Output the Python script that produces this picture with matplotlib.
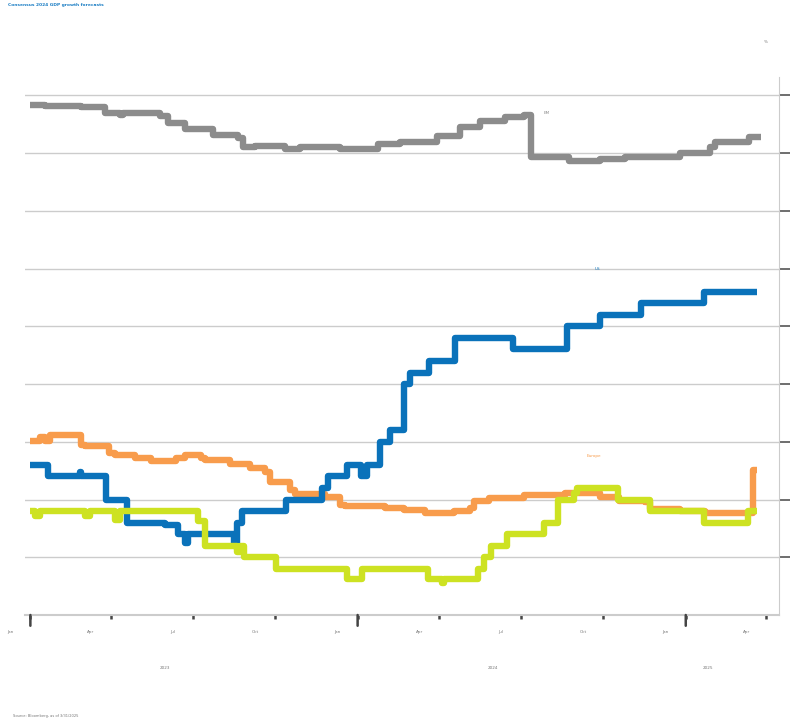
import matplotlib
matplotlib.use("Agg")
import matplotlib.pyplot as plt
import matplotlib.dates as mdates
import matplotlib.transforms as mtransforms
import pandas as pd

title = "Consensus 2024 GDP growth forecasts"
source = "Source: Bloomberg, as of 3/31/2025"

em_dates = ["2023-01-01", "2023-01-17", "2023-02-27", "2023-03-25", "2023-04-11", "2023-04-14",
            "2023-05-26", "2023-06-04", "2023-06-23", "2023-07-24", "2023-08-21", "2023-08-26",
            "2023-09-09", "2023-10-12", "2023-10-29", "2023-12-12", "2024-01-24", "2024-02-17",
            "2024-03-29", "2024-04-24", "2024-05-16", "2024-06-13", "2024-07-05", "2024-07-12",
            "2024-08-24", "2024-09-27", "2024-10-25", "2024-12-26", "2025-01-28", "2025-02-03",
            "2025-03-13", "2025-03-26"]
em_values = [4.42, 4.41, 4.40, 4.35, 4.33, 4.35, 4.32, 4.26, 4.21, 4.16, 4.13, 4.05,
             4.06, 4.04, 4.05, 4.04, 4.08, 4.10, 4.15, 4.23, 4.28, 4.31, 4.33, 3.97,
             3.93, 3.95, 3.97, 4.00, 4.05, 4.10, 4.14, 4.14]

eu_dates = ["2023-01-01", "2023-01-12", "2023-01-17", "2023-01-23", "2023-02-27", "2023-03-03",
            "2023-03-30", "2023-04-05", "2023-04-28", "2023-05-15", "2023-06-12", "2023-06-23",
            "2023-07-10", "2023-07-15", "2023-08-12", "2023-09-03", "2023-09-20", "2023-09-25",
            "2023-10-18", "2023-10-23", "2023-11-26", "2023-12-12", "2023-12-18", "2024-02-01",
            "2024-02-22", "2024-03-16", "2024-04-18", "2024-05-05", "2024-05-10", "2024-05-27",
            "2024-07-05", "2024-08-19", "2024-09-27", "2024-10-19", "2024-11-16", "2024-11-22",
            "2024-12-26", "2025-01-23", "2025-03-17", "2025-03-21"]
eu_values = [1.51, 1.54, 1.51, 1.56, 1.47, 1.46, 1.40, 1.39, 1.36, 1.33, 1.36, 1.39,
             1.36, 1.34, 1.31, 1.27, 1.24, 1.15, 1.08, 1.05, 1.02, 0.95, 0.94, 0.93,
             0.91, 0.88, 0.90, 0.93, 0.99, 1.01, 1.04, 1.06, 1.02, 0.99, 0.98, 0.92,
             0.90, 0.88, 1.26, 1.26]

us_dates = ["2023-01-01", "2023-01-21", "2023-02-25", "2023-02-27", "2023-03-26", "2023-04-19",
            "2023-05-31", "2023-06-15", "2023-06-23", "2023-06-26", "2023-08-16", "2023-08-20",
            "2023-08-25", "2023-10-13", "2023-11-22", "2023-11-29", "2023-12-20", "2024-01-05",
            "2024-01-12", "2024-01-26", "2024-02-06", "2024-02-22", "2024-02-28", "2024-03-21",
            "2024-04-19", "2024-06-22", "2024-08-22", "2024-09-27", "2024-11-12", "2025-01-21",
            "2025-03-21"]
us_values = [1.30, 1.20, 1.24, 1.20, 1.00, 0.80, 0.78, 0.70, 0.62, 0.70, 0.60, 0.80,
             0.90, 1.00, 1.10, 1.20, 1.30, 1.20, 1.30, 1.50, 1.60, 2.00, 2.10, 2.20,
             2.40, 2.30, 2.50, 2.60, 2.70, 2.80, 2.80]

uk_dates = ["2023-01-01", "2023-01-06", "2023-01-12", "2023-03-03", "2023-03-09", "2023-04-05",
            "2023-04-11", "2023-07-07", "2023-07-15", "2023-08-20", "2023-08-23", "2023-08-27",
            "2023-10-02", "2023-12-20", "2024-01-06", "2024-03-19", "2024-04-04", "2024-04-06",
            "2024-05-14", "2024-05-21", "2024-05-29", "2024-06-16", "2024-07-27", "2024-08-11",
            "2024-08-29", "2024-09-02", "2024-10-17", "2024-11-22", "2025-01-21", "2025-03-11",
            "2025-03-21"]
uk_values = [0.90, 0.86, 0.90, 0.86, 0.90, 0.82, 0.90, 0.81, 0.60, 0.55, 0.60, 0.50,
             0.40, 0.31, 0.40, 0.31, 0.28, 0.31, 0.40, 0.50, 0.60, 0.70, 0.80, 1.00,
             1.06, 1.10, 1.00, 0.90, 0.80, 0.90, 0.90]

month_ticks = ["2023-01-01", "2023-04-01", "2023-07-01", "2023-10-01", "2024-01-01",
               "2024-04-01", "2024-07-01", "2024-10-01", "2025-01-01", "2025-04-01"]
month_labels = ["Jan", "Apr", "Jul", "Oct", "Jan", "Apr", "Jul", "Oct", "Jan", "Apr"]
year_labels = ["2023", "2024", "2025"]
year_positions = ["2023-05-31", "2024-05-31", "2025-01-26"]
y_ticks = [0.5, 1.0, 1.5, 2.0, 2.5, 3.0, 3.5, 4.0, 4.5]

fig = plt.figure(figsize=(7.94, 7.2), dpi=100)
ax = fig.add_axes([25 / 794, 1 - 615 / 720, (779 - 25) / 794, (615 - 77) / 720])

series = [
    (em_dates, em_values, "#8c8c8c"),
    (eu_dates, eu_values, "#f89c4c"),
    (us_dates, us_values, "#0a72ba"),
    (uk_dates, uk_values, "#cde222"),
]
for d, v, c in series:
    ax.plot(pd.to_datetime(d), v, drawstyle="steps-post", color=c, lw=4.6,
            solid_joinstyle="round", solid_capstyle="butt")

ax.set_xlim(pd.Timestamp("2022-12-26"), pd.Timestamp("2025-04-15"))
ax.set_ylim(0, 4.66)

for s in ["top", "left"]:
    ax.spines[s].set_visible(False)
ax.spines["right"].set_color("#cccccc")
ax.spines["bottom"].set_color("#cccccc")
ax.spines["bottom"].set_linewidth(1.5)

ax.yaxis.tick_right()
ax.set_yticks(y_ticks)
ax.set_yticklabels([])
ax.tick_params(axis="y", direction="out", length=8, width=1.2, color="#555555")
ax.grid(axis="y", color="#cccccc", lw=1)
ax.set_axisbelow(True)

ticks = pd.to_datetime(month_ticks)
ax.set_xticks(ticks)
ax.set_xticklabels([])
ax.tick_params(axis="x", direction="out", length=3, width=1.8, color="#444444")
trans_x = ax.get_xaxis_transform()
for t, lab in zip(ticks, month_labels):
    if lab == "Jan":
        ax.annotate("", xy=(mdates.date2num(t), 0), xycoords=trans_x,
                    xytext=(mdates.date2num(t), -0.02), textcoords=trans_x,
                    arrowprops=dict(arrowstyle="-", color="#444444", lw=1.8,
                                    shrinkA=0, shrinkB=0))
    off = mtransforms.offset_copy(trans_x, fig=fig, x=-20, y=-17, units="dots")
    ax.text(mdates.date2num(t), 0, lab, transform=off, ha="center", va="center",
            fontsize=3, color="#777777")
for p, lab in zip(pd.to_datetime(year_positions), year_labels):
    off = mtransforms.offset_copy(trans_x, fig=fig, x=0, y=-53, units="dots")
    ax.text(mdates.date2num(p), 0, lab, transform=off, ha="center", va="center",
            fontsize=3, color="#777777")

ax.text(pd.Timestamp("2024-07-27"), 4.35, "EM", fontsize=3, color="#8c8c8c", ha="left", va="center")
ax.text(pd.Timestamp("2024-09-24"), 3.00, "US", fontsize=3, color="#0a72ba", ha="center", va="center")
ax.text(pd.Timestamp("2024-09-21"), 1.38, "Europe", fontsize=3, color="#f89c4c", ha="center", va="center")

fig.text(8 / 794, 1 - 5 / 720, title, fontsize=3.2, color="#1a7dc4", fontweight="bold",
         ha="left", va="center")
fig.text(766 / 794, 1 - 42 / 720, "%", fontsize=3, color="#777777", ha="center", va="center")
fig.text(13 / 794, 1 - 716 / 720, source, fontsize=2.6, color="#777777", ha="left", va="center")

fig.savefig("out.png", dpi=100)
